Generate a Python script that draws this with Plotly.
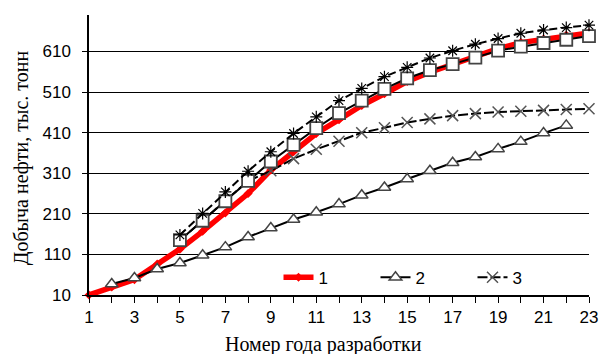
import plotly.graph_objects as go

# Годы разработки
years = list(range(1, 24))

# Вариант 1 (красная линия), годы 1–23
s1_years = list(range(1, 24))
s1_vals = [10, 30, 48, 86, 123, 167, 212, 260, 318, 363, 408, 442, 477, 506,
           536, 559, 578, 598, 617, 632, 641, 650, 656]

# Вариант 2 (треугольники), годы 2–22
s2_years = list(range(2, 23))
s2_vals = [37, 52, 74, 89, 108, 128, 153, 175, 196, 214, 234, 256, 275, 296,
           316, 336, 350, 370, 388, 409, 428]

# Вариант 3 (крестики), годы 5–23
s3_years = list(range(5, 24))
s3_vals = [145, 193, 241, 291, 316, 346, 369, 389, 410, 422, 435, 444, 452,
           457, 461, 463, 465, 467, 469]

# Дополнительные расчётные кривые без подписи в легенде
s4_years = list(range(5, 24))
s4_vals = [145, 193, 241, 291, 339, 380, 421, 458, 489, 518, 544, 564, 579,
           595, 612, 622, 631, 639, 648]

s5_years = list(range(5, 24))
s5_vals = [158, 211, 264, 315, 363, 408, 449, 489, 519, 548, 571, 594, 612,
           628, 642, 655, 663, 669, 675]

y_ticks = [10, 110, 210, 310, 410, 510, 610]
x_tick_text = [str(y) if y % 2 == 1 else "" for y in years]

SANS = "Liberation Sans, Arial, sans-serif"
SERIF = "Liberation Serif, Times New Roman, serif"

fig = go.Figure()

fig.add_trace(go.Scatter(
    x=s1_years, y=s1_vals, name="1", mode="lines+markers",
    line=dict(color="#ff0000", width=5.5),
    marker=dict(symbol="diamond", size=7, color="#ff0000"),
    cliponaxis=False,
))
fig.add_trace(go.Scatter(
    x=s2_years, y=s2_vals, name="2", mode="lines+markers",
    line=dict(color="#000000", width=2),
    marker=dict(symbol="triangle-up", size=11, color="white",
                line=dict(color="#444444", width=1.5)),
    cliponaxis=False,
))
fig.add_trace(go.Scatter(
    x=s3_years, y=s3_vals, name="3", mode="lines+markers",
    line=dict(color="#000000", width=2, dash="10px,3px"),
    marker=dict(symbol="x-thin-open", size=11, color="#555555",
                line=dict(color="#555555", width=1.5)),
    cliponaxis=False,
))
fig.add_trace(go.Scatter(
    x=s4_years, y=s4_vals, name="4", mode="lines+markers", showlegend=False,
    line=dict(color="#000000", width=2),
    marker=dict(symbol="square", size=12, color="white",
                line=dict(color="#444444", width=1.8)),
    cliponaxis=False,
))
fig.add_trace(go.Scatter(
    x=s5_years, y=s5_vals, name="5", mode="lines+markers", showlegend=False,
    line=dict(color="#000000", width=2, dash="8px,4px"),
    marker=dict(symbol="asterisk-open", size=10, color="#000000",
                line=dict(color="#000000", width=1.2)),
    cliponaxis=False,
))

fig.update_layout(
    width=609, height=354,
    margin=dict(l=89, r=11, t=15, b=59),
    paper_bgcolor="white", plot_bgcolor="white",
    font=dict(family=SANS, size=17, color="black"),
    showlegend=True,
    legend=dict(
        orientation="h", x=0.379, y=0.062, xanchor="left", yanchor="middle",
        bgcolor="rgba(0,0,0,0)", font=dict(family=SANS, size=17),
        entrywidth=52, itemwidth=30,
    ),
)

fig.update_xaxes(
    range=[1, 23], tickmode="array", tickvals=years, ticktext=x_tick_text,
    showgrid=False, zeroline=False,
    showline=True, linecolor="black", linewidth=1.5,
    ticks="outside", ticklen=6, tickcolor="black", tickwidth=1,
    tickfont=dict(family=SANS, size=17),
)
fig.update_yaxes(
    range=[10, 700], tickmode="array", tickvals=y_ticks,
    showgrid=True, gridcolor="black", gridwidth=1.2, zeroline=False,
    showline=True, linecolor="black", linewidth=1.5,
    ticks="outside", ticklen=5, tickcolor="black", tickwidth=1,
    tickfont=dict(family=SANS, size=17), ticklabelstandoff=8,
)

fig.add_annotation(
    text="Номер года разработки", xref="paper", yref="paper",
    x=(328 - 89) / 509, y=-(344 - 295) / 280, showarrow=False,
    xanchor="center", yanchor="middle",
    font=dict(family=SERIF, size=20, color="black"),
)
fig.add_annotation(
    text="Добыча нефти, тыс. тонн", xref="paper", yref="paper",
    x=-(89 - 20) / 509, y=(295 - 158) / 280, showarrow=False, textangle=-90,
    xanchor="center", yanchor="middle",
    font=dict(family=SERIF, size=20, color="black"),
)

fig.write_html("out.html")
